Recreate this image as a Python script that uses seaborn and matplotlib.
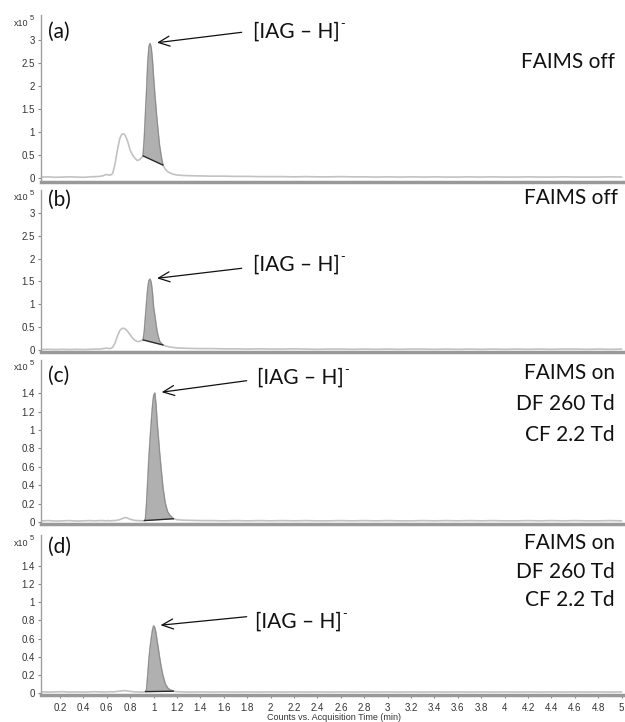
import numpy as np
import pandas as pd
import matplotlib
matplotlib.use("Agg")
import matplotlib.pyplot as plt
import seaborn as sns

# ---------------- data (counts x10^5 vs acquisition time, min) ----------------
time = [0.04, 0.10, 0.16, 0.22, 0.28, 0.34, 0.40, 0.46, 0.50, 0.54,
        0.57, 0.59, 0.61, 0.63, 0.65, 0.67, 0.69, 0.71, 0.72, 0.73,
        0.74, 0.75, 0.76, 0.77, 0.78, 0.80, 0.82, 0.84, 0.86, 0.88,
        0.90, 0.91, 0.92, 0.93, 0.94, 0.95, 0.96, 0.97, 0.98, 0.99,
        1.00, 1.01, 1.02, 1.03, 1.04, 1.05, 1.06, 1.07, 1.08, 1.10,
        1.12, 1.14, 1.17, 1.20, 1.25, 1.30, 1.40, 1.50, 1.60, 1.70,
        1.80, 1.90, 2.00, 2.10, 2.20, 2.30, 2.40, 2.50, 2.60, 2.70,
        2.80, 2.90, 3.00, 3.10, 3.20, 3.30, 3.40, 3.50, 3.60, 3.70,
        3.80, 3.90, 4.00, 4.10, 4.20, 4.30, 4.40, 4.50, 4.60, 4.70,
        4.80, 4.90, 5.00]

trace_a = [0.02, 0.025, 0.015, 0.02, 0.025, 0.02, 0.015, 0.025, 0.03, 0.035,
           0.05, 0.075, 0.07, 0.06, 0.10, 0.30, 0.60, 0.85, 0.91, 0.95,
           0.96, 0.95, 0.91, 0.85, 0.78, 0.60, 0.50, 0.43, 0.38, 0.40,
           0.45, 0.48, 0.85, 1.38, 1.90, 2.50, 2.85, 2.92, 2.82, 2.55,
           2.17, 1.83, 1.52, 1.23, 0.97, 0.72, 0.55, 0.40, 0.28, 0.19,
           0.14, 0.11, 0.08, 0.065, 0.055, 0.05, 0.045, 0.04, 0.04, 0.035,
           0.035, 0.03, 0.03, 0.03, 0.025, 0.03, 0.025, 0.025, 0.03, 0.025,
           0.025, 0.02, 0.025, 0.02, 0.025, 0.02, 0.025, 0.02, 0.02, 0.025,
           0.02, 0.025, 0.02, 0.02, 0.025, 0.02, 0.02, 0.025, 0.02, 0.02,
           0.02, 0.025, 0.02]

trace_b = [0.01, 0.015, 0.01, 0.015, 0.01, 0.015, 0.01, 0.015, 0.02, 0.02,
           0.03, 0.04, 0.035, 0.03, 0.06, 0.15, 0.30, 0.42, 0.45, 0.47,
           0.475, 0.47, 0.455, 0.43, 0.40, 0.33, 0.26, 0.21, 0.185, 0.19,
           0.21, 0.22, 0.40, 0.72, 1.05, 1.35, 1.52, 1.55, 1.47, 1.25,
           0.93, 0.76, 0.57, 0.40, 0.29, 0.20, 0.16, 0.13, 0.11, 0.09,
           0.075, 0.065, 0.055, 0.045, 0.04, 0.035, 0.03, 0.03, 0.025, 0.025,
           0.02, 0.025, 0.02, 0.02, 0.025, 0.02, 0.015, 0.02, 0.02, 0.015,
           0.02, 0.015, 0.02, 0.015, 0.02, 0.02, 0.015, 0.02, 0.015, 0.02,
           0.015, 0.02, 0.015, 0.02, 0.015, 0.02, 0.015, 0.02, 0.02, 0.015,
           0.02, 0.015, 0.02]

trace_c = [0.012, 0.015, 0.01, 0.012, 0.015, 0.01, 0.012, 0.015, 0.012, 0.015,
           0.015, 0.012, 0.015, 0.012, 0.015, 0.015, 0.02, 0.025, 0.03, 0.035,
           0.04, 0.045, 0.048, 0.045, 0.04, 0.03, 0.022, 0.018, 0.015, 0.015,
           0.012, 0.012, 0.015, 0.03, 0.20, 0.45, 0.70, 0.90, 1.08, 1.25,
           1.37, 1.40, 1.28, 1.08, 0.93, 0.77, 0.63, 0.50, 0.37, 0.20,
           0.11, 0.07, 0.035, 0.025, 0.02, 0.018, 0.015, 0.015, 0.012, 0.015,
           0.012, 0.015, 0.012, 0.015, 0.012, 0.015, 0.012, 0.012, 0.015, 0.012,
           0.015, 0.012, 0.015, 0.012, 0.012, 0.015, 0.012, 0.015, 0.012, 0.015,
           0.012, 0.015, 0.012, 0.012, 0.015, 0.012, 0.015, 0.012, 0.015, 0.012,
           0.012, 0.015, 0.012]

trace_d = [0.012, 0.01, 0.012, 0.015, 0.01, 0.012, 0.01, 0.012, 0.015, 0.012,
           0.012, 0.01, 0.012, 0.015, 0.012, 0.015, 0.018, 0.02, 0.022, 0.024,
           0.025, 0.026, 0.025, 0.024, 0.022, 0.018, 0.015, 0.012, 0.012, 0.01,
           0.01, 0.01, 0.012, 0.015, 0.04, 0.20, 0.37, 0.50, 0.60, 0.69,
           0.74, 0.72, 0.66, 0.57, 0.49, 0.40, 0.32, 0.25, 0.19, 0.10,
           0.055, 0.035, 0.02, 0.015, 0.012, 0.01, 0.012, 0.01, 0.012, 0.01,
           0.012, 0.01, 0.012, 0.01, 0.012, 0.01, 0.012, 0.01, 0.012, 0.01,
           0.012, 0.01, 0.012, 0.01, 0.012, 0.01, 0.012, 0.01, 0.012, 0.01,
           0.012, 0.01, 0.012, 0.01, 0.012, 0.01, 0.012, 0.01, 0.012, 0.01,
           0.012, 0.01, 0.012]

traces = [trace_a, trace_b, trace_c, trace_d]
peak_start = [0.91, 0.91, 0.92, 0.93]
peak_end = [1.08, 1.08, 1.17, 1.17]
panel_labels = ["(a)", "(b)", "(c)", "(d)"]
peak_label = "[IAG – H]"
conditions = [["FAIMS off"], ["FAIMS off"],
              ["FAIMS on", "DF 260 Td", "CF 2.2 Td"],
              ["FAIMS on", "DF 260 Td", "CF 2.2 Td"]]
yticks_big = [0, 0.5, 1, 1.5, 2, 2.5, 3]
yticklabels_big = ["0", "0.5", "1", "1.5", "2", "2.5", "3"]
yticks_small = [0, 0.2, 0.4, 0.6, 0.8, 1.0, 1.2, 1.4]
yticklabels_small = ["0", "0.2", "0.4", "0.6", "0.8", "1", "1.2", "1.4"]
xticks = [0.2, 0.4, 0.6, 0.8, 1.0, 1.2, 1.4, 1.6, 1.8, 2.0, 2.2, 2.4, 2.6,
          2.8, 3.0, 3.2, 3.4, 3.6, 3.8, 4.0, 4.2, 4.4, 4.6, 4.8, 5.0]
xticklabels = ["0.2", "0.4", "0.6", "0.8", "1", "1.2", "1.4", "1.6", "1.8", "2",
               "2.2", "2.4", "2.6", "2.8", "3", "3.2", "3.4", "3.6", "3.8", "4",
               "4.2", "4.4", "4.6", "4.8", "5"]
x_title = "Counts vs. Acquisition Time (min)"
scale_label = "x10"
scale_exp = "5"

# ---------------- layout (pixels) ----------------
W, H = 625, 722
def fx(px):
    return px / W
def fy(py):
    return 1 - py / H

ax_left, ax_right = 40.7, 624
panel_px = [(15, 181.5), (190, 352), (360, 524), (535, 695)]
ylims = [(-0.076, 3.54), (-0.044, 3.50), (-0.022, 1.76), (-0.022, 1.742)]
label_y = [32, 200, 376, 547]
iag_text = [(252.7, 32), (253, 265), (257, 378), (255, 622)]
arrow_tail = [(241.7, 32.3), (241.7, 268.3), (246.7, 380.7), (246.7, 616.7)]
cond_right = [615, 618, 615, 615]
cond_y = [[62], [198], [373, 404, 435], [543, 572, 600]]

sns.set_style("white")
plt.rcParams["font.family"] = ["Liberation Sans", "DejaVu Sans"]
ANN_FONT = ["Lato", "DejaVu Sans"]

fig = plt.figure(figsize=(W / 100, H / 100), dpi=100)
t = np.array(time)

for i in range(4):
    top, bot = panel_px[i]
    ax = fig.add_axes([fx(ax_left), fy(bot), (ax_right - ax_left) / W, (bot - top) / H])
    v = np.array(traces[i])
    df = pd.DataFrame({"time": t, "counts": v})
    sns.lineplot(data=df, x="time", y="counts", ax=ax, color="#c2c2c2",
                 lw=1.2, estimator=None, sort=False)

    # integrated peak
    s, e = peak_start[i], peak_end[i]
    vs, ve = np.interp(s, t, v), np.interp(e, t, v)
    m = (t > s) & (t < e)
    tt = np.concatenate([[s], t[m], [e]])
    vv = np.concatenate([[vs], v[m], [ve]])
    base = np.interp(tt, [s, e], [vs, ve])
    ax.fill_between(tt, base, vv, color="#b0b0b0", lw=0, zorder=3)
    ax.plot(tt, vv, color="#8c8c8c", lw=0.8, zorder=4)
    ax.plot([s, e], [vs, ve], color="#2a2a2a", lw=1.0, zorder=4)

    ax.set_xlim(0.035, 5.02)
    ax.set_ylim(*ylims[i])
    if i < 2:
        ax.set_yticks(yticks_big)
        ax.set_yticklabels(yticklabels_big)
    else:
        ax.set_yticks(yticks_small)
        ax.set_yticklabels(yticklabels_small)
    ax.set_xticks(xticks)
    if i == 3:
        ax.set_xticklabels(xticklabels)
        ax.tick_params(axis="x", bottom=True, length=2.5, width=0.8, color="#888888",
                       labelsize=7, pad=3.5, labelcolor="#333333")
    else:
        ax.set_xticklabels([])
        ax.tick_params(axis="x", bottom=False)
    ax.tick_params(axis="y", left=True, length=2.5, width=0.8, color="#888888",
                   labelsize=7, pad=1.5, labelcolor="#333333")
    ax.set_xlabel("")
    ax.set_ylabel("")
    for sp in ["top", "right"]:
        ax.spines[sp].set_visible(False)
    ax.spines["left"].set_color("#a0a0a0")
    ax.spines["left"].set_linewidth(1.0)
    ax.spines["bottom"].set_color("#999999")
    ax.spines["bottom"].set_linewidth(2.5)

    # scale label
    sl = fig.text(fx(28), fy(top + 8), scale_label, ha="right", va="center",
                  fontsize=6.5, color="#333333")
    ax.annotate(scale_exp, xy=(1.0, 0.95), xycoords=sl, xytext=(1.2, 0),
                textcoords="offset points", ha="left", va="center",
                fontsize=5.5, color="#333333")

    # panel label
    fig.text(fx(48), fy(label_y[i]), panel_labels[i], ha="left", va="center",
             fontsize=15, family=ANN_FONT, color="#111111")

    # peak label + arrow
    k = int(np.argmax(v))
    tx, ty = iag_text[i]
    it = fig.text(fx(tx), fy(ty), peak_label, ha="left", va="center",
                  fontsize=15, family=ANN_FONT, color="#111111")
    ax.annotate("-", xy=(1.0, 0.9), xycoords=it, xytext=(0.5, 0),
                textcoords="offset points", ha="left", va="center",
                fontsize=9, family=ANN_FONT, color="#111111")
    ax_, ay_ = arrow_tail[i]
    ax.annotate("", xy=(t[k], v[k]), xycoords="data",
                xytext=(fx(ax_), fy(ay_)), textcoords="figure fraction",
                arrowprops=dict(arrowstyle="->,head_length=0.4,head_width=0.18",
                                color="#111111", lw=0.9, shrinkA=0, shrinkB=5,
                                mutation_scale=20))

    # condition text
    for line, yy in zip(conditions[i], cond_y[i]):
        fig.text(fx(cond_right[i]), fy(yy), line, ha="right", va="center",
                 fontsize=15, family=ANN_FONT, color="#111111")

fig.text(fx(334), fy(718), x_title, ha="center", va="center", fontsize=6.5,
         color="#333333")

fig.savefig("out.png", dpi=100)
